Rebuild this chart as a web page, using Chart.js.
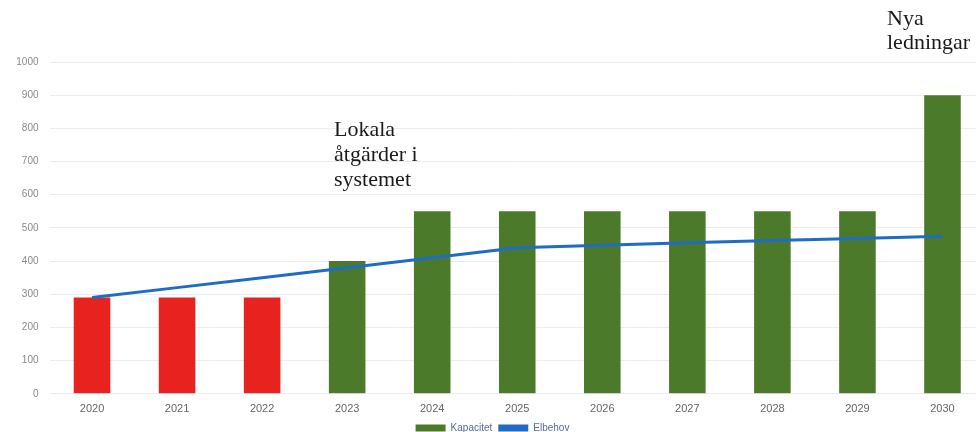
<!DOCTYPE html>
<html>
<head>
<meta charset="utf-8">
<script src="https://cdn.jsdelivr.net/npm/chart.js@4/dist/chart.umd.min.js"></script>
<style>
  html, body { margin: 0; padding: 0; background: #fff; overflow: hidden; }
  #wrap { position: relative; width: 976px; height: 432px; overflow: hidden; }
  #box { position: absolute; left: 0; top: 0; width: 985px; height: 443px; }
  .note {
    position: absolute;
    font-family: "Liberation Serif", "DejaVu Serif", serif;
    font-size: 22px;
    line-height: 25px;
    color: #1a1a1a;
    white-space: pre;
  }
</style>
</head>
<body>
<div id="wrap">
  <div id="box"><canvas id="chart"></canvas></div>
  <div class="note" style="left:334px; top:116px;">Lokala
åtgärder i
systemet</div>
  <div class="note" style="left:887px; top:6px; line-height:24px;">Nya
ledningar</div>
</div>
<script>
  // årtal och värden
  const years = ["2020", "2021", "2022", "2023", "2024", "2025", "2026", "2027", "2028", "2029", "2030"];
  const kapacitet = [290, 290, 290, 400, 550, 550, 550, 550, 550, 550, 900];
  const elbehov = [290, 320, 350, 380, 410, 440, 448, 455, 462, 468, 475];
  const yTicks = [0, 100, 200, 300, 400, 500, 600, 700, 800, 900, 1000];

  // röda staplar för åren före åtgärderna
  const barColors = years.map((y) => (Number(y) <= 2022 ? "#e8231f" : "#4c7a2b"));

  const ctx = document.getElementById("chart").getContext("2d");
  new Chart(ctx, {
    data: {
      labels: years,
      datasets: [
        {
          type: "bar",
          label: "Kapacitet",
          data: kapacitet,
          backgroundColor: barColors,
          barPercentage: 0.43,
          categoryPercentage: 1,
          order: 1,
        },
        {
          type: "line",
          label: "Elbehov",
          data: elbehov,
          borderColor: "#1f6cc4",
          backgroundColor: "#1f6cc4",
          borderWidth: 3,
          pointRadius: 0,
          tension: 0,
          order: 0,
        },
      ],
    },
    options: {
      responsive: true,
      maintainAspectRatio: false,
      animation: false,
      layout: { padding: { top: 62, right: 0, left: 0, bottom: 0 } },
      scales: {
        x: {
          grid: { display: false },
          border: { display: false },
          ticks: {
            color: "#666",
            font: { family: "Liberation Sans", size: 11 },
            padding: 1,
          },
        },
        y: {
          min: 0,
          max: 1000,
          afterFit: (scale) => { scale.width = 49.5; },
          afterBuildTicks: (scale) => { scale.ticks = yTicks.map((v) => ({ value: v })); },
          grid: { color: "#ececec", drawTicks: false },
          border: { display: false },
          ticks: {
            color: "#8a8a8a",
            font: { family: "Liberation Sans", size: 10 },
            padding: 11,
            callback: (v) => String(v),
          },
        },
      },
      plugins: {
        legend: {
          position: "bottom",
          labels: {
            color: "#5a6a9a",
            font: { family: "Liberation Sans", size: 10 },
            boxWidth: 30,
            boxHeight: 7,
            padding: 6,
            generateLabels: (chart) =>
              chart.data.datasets.map((ds, i) => ({
                text: ds.label,
                fillStyle: ds.type === "bar" ? "#4c7a2b" : ds.borderColor,
                strokeStyle: ds.type === "bar" ? "#4c7a2b" : ds.borderColor,
                lineWidth: 0,
                datasetIndex: i,
                fontColor: "#5a6a9a",
              })),
          },
        },
        tooltip: { enabled: false },
      },
    },
  });
</script>
</body>
</html>
